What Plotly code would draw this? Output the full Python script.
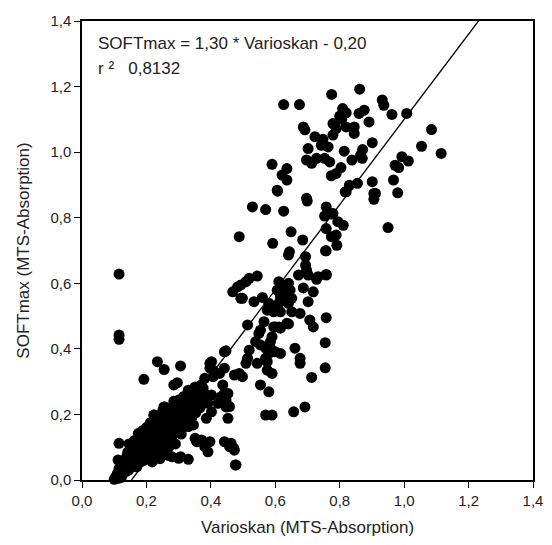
import plotly.graph_objects as go

# regression shown in the chart
slope = 1.30
intercept = -0.20
r_squared = "0,8132"

# upper cloud (Varioskan, SOFTmax)
upper_points = [
    (0.626, 1.145), (0.675, 1.145), (0.775, 1.176), (0.862, 1.192), (0.932, 1.159),
    (0.937, 1.143), (0.809, 1.133), (0.800, 1.110), (0.820, 1.120), (0.806, 1.100),
    (0.876, 1.128), (0.860, 1.118), (0.891, 1.092), (0.962, 1.115), (1.008, 1.118),
    (0.687, 1.077), (0.692, 1.068), (0.779, 1.087), (0.789, 1.072), (0.820, 1.077),
    (0.845, 1.077), (0.845, 1.057), (0.723, 1.047), (0.748, 1.039), (0.779, 1.052),
    (0.743, 1.021), (0.764, 1.016), (0.702, 1.011), (0.901, 1.029), (0.814, 1.003),
    (0.871, 1.008), (0.865, 0.991), (0.870, 0.981), (0.697, 0.976), (0.728, 0.981),
    (0.753, 0.981), (0.769, 0.970), (0.713, 0.966), (0.838, 0.976), (0.804, 0.953),
    (0.590, 0.963), (0.636, 0.950), (0.621, 0.930), (0.636, 0.915), (0.774, 0.928),
    (0.789, 0.935), (0.830, 0.899), (0.855, 0.905), (0.901, 0.910), (0.606, 0.884),
    (0.820, 0.879), (0.906, 0.874), (0.697, 0.859), (1.085, 1.069), (1.054, 1.018),
    (1.115, 0.996), (0.993, 0.986), (1.013, 0.973), (0.972, 0.960), (0.983, 0.953),
    (0.967, 0.915), (0.911, 0.874), (0.906, 0.856), (0.980, 0.876), (0.950, 0.770),
    (0.607, 0.881), (0.529, 0.833), (0.570, 0.825), (0.626, 0.820), (0.699, 0.851),
    (0.817, 0.879), (0.758, 0.833), (0.779, 0.813), (0.753, 0.805), (0.774, 0.811),
    (0.794, 0.788), (0.811, 0.777), (0.758, 0.767), (0.774, 0.742), (0.789, 0.747),
    (0.791, 0.716), (0.756, 0.699), (0.758, 0.627), (0.733, 0.620),
]

# middle band
middle_points = [
    (0.488, 0.742), (0.649, 0.757), (0.685, 0.732), (0.592, 0.722), (0.758, 0.699),
    (0.644, 0.696), (0.641, 0.686), (0.694, 0.681), (0.694, 0.655), (0.697, 0.640),
    (0.702, 0.625), (0.672, 0.625), (0.728, 0.612), (0.758, 0.625), (0.544, 0.622),
    (0.519, 0.615), (0.509, 0.605), (0.493, 0.595), (0.483, 0.589), (0.468, 0.574),
    (0.611, 0.605), (0.616, 0.589), (0.641, 0.600), (0.646, 0.579), (0.636, 0.559),
    (0.616, 0.559), (0.606, 0.579), (0.687, 0.586), (0.718, 0.574), (0.702, 0.544),
    (0.560, 0.557), (0.580, 0.539), (0.498, 0.554), (0.534, 0.544), (0.616, 0.544),
    (0.641, 0.539), (0.493, 0.554), (0.616, 0.569), (0.651, 0.554), (0.611, 0.539),
    (0.585, 0.534), (0.575, 0.518), (0.595, 0.513), (0.616, 0.513), (0.651, 0.513),
    (0.677, 0.508), (0.514, 0.473), (0.565, 0.483), (0.554, 0.457), (0.549, 0.447),
    (0.595, 0.467), (0.611, 0.467), (0.641, 0.476), (0.590, 0.437), (0.585, 0.422),
    (0.539, 0.422), (0.554, 0.412), (0.570, 0.402), (0.585, 0.402), (0.580, 0.386),
    (0.600, 0.391), (0.616, 0.386), (0.570, 0.371), (0.575, 0.361), (0.661, 0.402),
    (0.677, 0.371), (0.677, 0.356), (0.519, 0.396), (0.514, 0.371), (0.509, 0.356),
    (0.544, 0.356), (0.575, 0.335), (0.590, 0.325), (0.554, 0.290), (0.580, 0.269),
    (0.570, 0.198), (0.590, 0.198), (0.657, 0.208), (0.692, 0.223), (0.758, 0.495),
    (0.755, 0.419), (0.755, 0.342), (0.713, 0.313), (0.707, 0.488), (0.718, 0.467),
    (0.636, 0.478), (0.616, 0.463), (0.600, 0.467), (0.473, 0.320), (0.498, 0.315),
    (0.488, 0.325), (0.463, 0.112), (0.471, 0.097), (0.478, 0.046),
]

# low-value cluster and outliers near the origin
lower_points = [
    (0.115, 0.628), (0.115, 0.442), (0.115, 0.429), (0.234, 0.361), (0.255, 0.337),
    (0.306, 0.348), (0.192, 0.307), (0.285, 0.290), (0.296, 0.297), (0.257, 0.223),
    (0.224, 0.198), (0.310, 0.178), (0.330, 0.163), (0.346, 0.168), (0.279, 0.071),
    (0.100, 0.002), (0.105, 0.010), (0.112, 0.005), (0.110, 0.020), (0.118, 0.015),
    (0.115, 0.035), (0.120, 0.028), (0.112, 0.061), (0.115, 0.112), (0.125, 0.045),
    (0.128, 0.020), (0.122, 0.008), (0.130, 0.035), (0.132, 0.055), (0.135, 0.025),
    (0.138, 0.070), (0.140, 0.045), (0.142, 0.085), (0.145, 0.030), (0.148, 0.060),
    (0.150, 0.095), (0.146, 0.110), (0.152, 0.040), (0.155, 0.075), (0.158, 0.050),
    (0.160, 0.100), (0.162, 0.120), (0.165, 0.065), (0.168, 0.085), (0.170, 0.040),
    (0.172, 0.110), (0.175, 0.142), (0.176, 0.070), (0.178, 0.095), (0.180, 0.125),
    (0.182, 0.055), (0.185, 0.080), (0.188, 0.150), (0.190, 0.105), (0.192, 0.060),
    (0.195, 0.130), (0.197, 0.090), (0.200, 0.160), (0.202, 0.115), (0.205, 0.070),
    (0.207, 0.140), (0.210, 0.095), (0.212, 0.175), (0.215, 0.125), (0.218, 0.055),
    (0.220, 0.150), (0.223, 0.198), (0.225, 0.105), (0.228, 0.170), (0.230, 0.080),
    (0.232, 0.135), (0.235, 0.190), (0.237, 0.115), (0.240, 0.155), (0.242, 0.065),
    (0.245, 0.175), (0.248, 0.130), (0.250, 0.210), (0.252, 0.095), (0.254, 0.223),
    (0.256, 0.160), (0.258, 0.185), (0.260, 0.120), (0.263, 0.200), (0.266, 0.145),
    (0.268, 0.075), (0.270, 0.102), (0.272, 0.170), (0.275, 0.215), (0.278, 0.130),
    (0.280, 0.195), (0.283, 0.155), (0.285, 0.240), (0.288, 0.180), (0.290, 0.110),
    (0.293, 0.225), (0.296, 0.160), (0.298, 0.200), (0.300, 0.066), (0.302, 0.245),
    (0.305, 0.185), (0.306, 0.071), (0.308, 0.140), (0.310, 0.220), (0.313, 0.178),
    (0.316, 0.255), (0.318, 0.200), (0.321, 0.244), (0.324, 0.165), (0.326, 0.223),
    (0.330, 0.063), (0.330, 0.274), (0.333, 0.210), (0.336, 0.245), (0.340, 0.190),
    (0.343, 0.260), (0.348, 0.230), (0.351, 0.284), (0.353, 0.205), (0.356, 0.117),
    (0.358, 0.250), (0.351, 0.127), (0.362, 0.270), (0.366, 0.220), (0.370, 0.290),
    (0.371, 0.122), (0.376, 0.280), (0.378, 0.240), (0.381, 0.102), (0.381, 0.310),
    (0.386, 0.259), (0.386, 0.188), (0.391, 0.234), (0.391, 0.086), (0.397, 0.117),
    (0.397, 0.341), (0.402, 0.208), (0.402, 0.259), (0.397, 0.356), (0.407, 0.315),
    (0.407, 0.335), (0.402, 0.361), (0.422, 0.234), (0.427, 0.325), (0.432, 0.254),
    (0.437, 0.290), (0.442, 0.264), (0.442, 0.341), (0.442, 0.391), (0.447, 0.244),
    (0.447, 0.223), (0.447, 0.394), (0.453, 0.188), (0.453, 0.264), (0.458, 0.224),
    (0.442, 0.117), (0.458, 0.102), (0.473, 0.091), (0.476, 0.046),
]

points = upper_points + middle_points + lower_points
vario = [p[0] for p in points]
softmax = [p[1] for p in points]

# fitted line drawn across the visible y range
line_x = [(0 - intercept) / slope, (1.4 - intercept) / slope]
line_y = [slope * x + intercept for x in line_x]

fig = go.Figure()
fig.add_trace(go.Scatter(x=line_x, y=line_y, mode="lines",
                         line=dict(color="black", width=1.3)))
fig.add_trace(go.Scatter(x=vario, y=softmax, mode="markers", cliponaxis=False,
                         marker=dict(color="black", size=11)))

axis_style = dict(
    range=[0, 1.4], dtick=0.2, tickformat=".1f",
    ticks="outside", ticklen=6, tickwidth=1.2, tickcolor="black",
    showline=True, linecolor="black", linewidth=1.5, mirror=True,
    showgrid=False, zeroline=False, automargin=False,
    tickfont=dict(size=15, color="#222"),
)

# the page body adds a small margin, so the figure is kept inside the window
fig.update_layout(
    width=536, height=529,
    margin=dict(l=74, r=11, t=13, b=57),
    paper_bgcolor="white", plot_bgcolor="white",
    showlegend=False,
    separators=", ",
    font=dict(family="Liberation Sans, Arial, sans-serif", color="#222"),
    xaxis=dict(axis_style, title=dict(text="Varioskan (MTS-Absorption)",
                                      font=dict(size=17), standoff=19)),
    yaxis=dict(axis_style, title=dict(text="SOFTmax (MTS-Absorption)",
                                      font=dict(size=17), standoff=16)),
)

fig.add_annotation(xref="paper", yref="paper", x=0.032, y=0.952,
                   xanchor="left", yanchor="middle", showarrow=False,
                   text="SOFTmax = 1,30 * Varioskan - 0,20", font=dict(size=17))
fig.add_annotation(xref="paper", yref="paper", x=0.032, y=0.896,
                   xanchor="left", yanchor="middle", showarrow=False,
                   text="r \u00b2\u00a0\u00a0 " + r_squared, font=dict(size=17))

fig.write_html("out.html")
